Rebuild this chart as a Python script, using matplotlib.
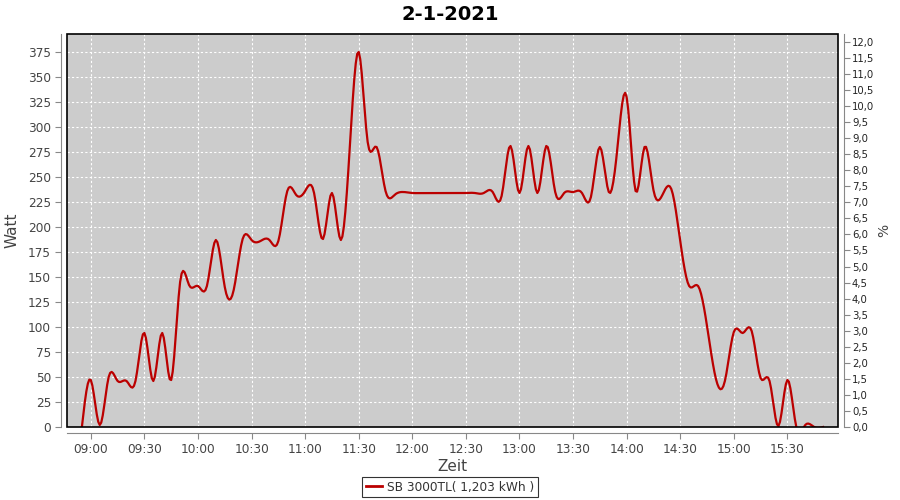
import numpy as np
import pandas as pd
import matplotlib
matplotlib.use("Agg")
import matplotlib.pyplot as plt
import matplotlib.dates as mdates
from matplotlib.patches import Rectangle

# Messwerte (5-Minuten-Raster)
zeiten = [
    "08:55", "09:00", "09:05", "09:10", "09:15", "09:20", "09:25", "09:30",
    "09:35", "09:40", "09:45", "09:50", "09:55", "10:00", "10:05", "10:10",
    "10:15", "10:20", "10:25", "10:30", "10:35", "10:40", "10:45", "10:50",
    "10:55", "11:00", "11:05", "11:10", "11:15", "11:20", "11:25", "11:30",
    "11:35", "11:40", "11:45", "11:50", "11:55", "12:00", "12:05", "12:10",
    "12:15", "12:20", "12:25", "12:30", "12:35", "12:40", "12:45", "12:50",
    "12:55", "13:00", "13:05", "13:10", "13:15", "13:20", "13:25", "13:30",
    "13:35", "13:40", "13:45", "13:50", "13:55", "14:00", "14:05", "14:10",
    "14:15", "14:20", "14:25", "14:30", "14:35", "14:40", "14:45", "14:50",
    "14:55", "15:00", "15:05", "15:10", "15:15", "15:20", "15:25", "15:30",
    "15:35", "15:40", "15:45", "15:50",
]
watt = [
    0, 47, 2, 50, 46, 46, 46, 94,
    46, 94, 47, 145, 142, 141, 141, 187,
    140, 137, 188, 187, 186, 187, 186, 236,
    232, 236, 234, 188, 234, 187, 280, 375,
    285, 280, 236, 232, 235, 234, 234, 234,
    234, 234, 234, 234, 234, 234, 235, 231,
    281, 234, 281, 234, 281, 235, 234, 235,
    234, 230, 280, 235, 282, 330, 236, 280,
    237, 232, 238, 186, 141, 141, 101, 48,
    46, 95, 94, 96, 49, 46, 1, 47,
    0, 2, 0, 0,
]
titel = "2-1-2021"
legende = "SB 3000TL( 1,203 kWh )"
xticks = ["09:00", "09:30", "10:00", "10:30", "11:00", "11:30", "12:00",
          "12:30", "13:00", "13:30", "14:00", "14:30", "15:00", "15:30"]

datum = "2021-01-02 "
t = mdates.date2num(pd.to_datetime([datum + z for z in zeiten]))
y = np.array(watt, dtype=float)


def spline(x, y, steps=6):
    # natuerlicher kubischer Spline, wie der Spline-Renderer im Original
    n = len(x)
    h = np.diff(x)
    A = np.zeros((n, n))
    r = np.zeros(n)
    A[0, 0] = A[-1, -1] = 1
    for i in range(1, n - 1):
        A[i, i - 1] = h[i - 1] / 6
        A[i, i] = (h[i - 1] + h[i]) / 3
        A[i, i + 1] = h[i] / 6
        r[i] = (y[i + 1] - y[i]) / h[i] - (y[i] - y[i - 1]) / h[i - 1]
    M = np.linalg.solve(A, r)
    xs, ys = [], []
    for i in range(n - 1):
        s = np.linspace(0, 1, steps, endpoint=False)
        a, b = 1 - s, s
        hi = h[i]
        yy = (a * y[i] + b * y[i + 1]
              + ((a ** 3 - a) * M[i] + (b ** 3 - b) * M[i + 1]) * hi ** 2 / 6)
        xs.append(x[i] + s * hi)
        ys.append(yy)
    xs.append([x[-1]])
    ys.append([y[-1]])
    return np.concatenate(xs), np.concatenate(ys)


plt.rcParams["font.family"] = ["DejaVu Sans"]
grau = "#444444"
achse = "#888888"

fig = plt.figure(figsize=(9, 5), dpi=100)
ax = fig.add_axes([67 / 900, 73 / 500, 771 / 900, 393 / 500])
ax.set_facecolor("#cccccc")

xs, ys = spline(t, y)
ax.plot(xs, ys, color="#bb0000", lw=1.6, solid_joinstyle="round", zorder=3)

x0 = mdates.date2num(pd.Timestamp(datum + "08:46:40"))
x1 = mdates.date2num(pd.Timestamp(datum + "15:58:20"))
ax.set_xlim(x0, x1)
ax.set_ylim(0, 393)
ax.set_xticks(mdates.date2num(pd.to_datetime([datum + z for z in xticks])))
ax.xaxis.set_major_formatter(mdates.DateFormatter("%H:%M"))
ax.set_yticks(np.arange(0, 376, 25))
ax.grid(True, color="white", linestyle=(0, (2, 2)), linewidth=0.8)
ax.set_axisbelow(True)

for s in ["top", "right"]:
    ax.spines[s].set_visible(False)
for s in ["left", "bottom"]:
    ax.spines[s].set_position(("outward", 4))
    ax.spines[s].set_color(achse)
ax.tick_params(colors=achse, labelcolor=grau, labelsize=8.7, length=4, width=0.8)
ax.add_patch(Rectangle((0, 0), 1, 1, transform=ax.transAxes, fill=False,
                       edgecolor="black", lw=1.2, zorder=5, clip_on=False))

ax.set_xlabel("Zeit", fontsize=11, color=grau, labelpad=2)
ax.set_ylabel("Watt", fontsize=11, color=grau, labelpad=6)

ax2 = ax.twinx()
ax2.set_ylim(0, 393 / 32.1)
ax2.set_yticks(np.arange(0, 12.01, 0.5))
ax2.set_yticklabels([f"{v:.1f}".replace(".", ",") for v in np.arange(0, 12.01, 0.5)])
for s in ["top", "left", "bottom"]:
    ax2.spines[s].set_visible(False)
ax2.spines["right"].set_position(("outward", 4))
ax2.spines["right"].set_color(achse)
ax2.tick_params(colors=achse, labelcolor="#222222", labelsize=7.3, length=4,
                width=0.8, pad=2)
ax2.set_ylabel("%", fontsize=10, color=grau, labelpad=2)

fig.suptitle(titel, fontsize=14, fontweight="bold", y=0.99)

leg = fig.legend([plt.Line2D([], [], color="#bb0000", lw=2)], [legende],
                 loc="center", bbox_to_anchor=(450 / 900, 1 - 487 / 500),
                 fontsize=8.7, frameon=True, fancybox=False, handlelength=1.4,
                 handletextpad=0.4, borderpad=0.3, borderaxespad=0)
leg.get_frame().set_edgecolor("black")
leg.get_frame().set_linewidth(0.8)
for txt in leg.get_texts():
    txt.set_color("#333333")

fig.savefig("out.png", dpi=100)
